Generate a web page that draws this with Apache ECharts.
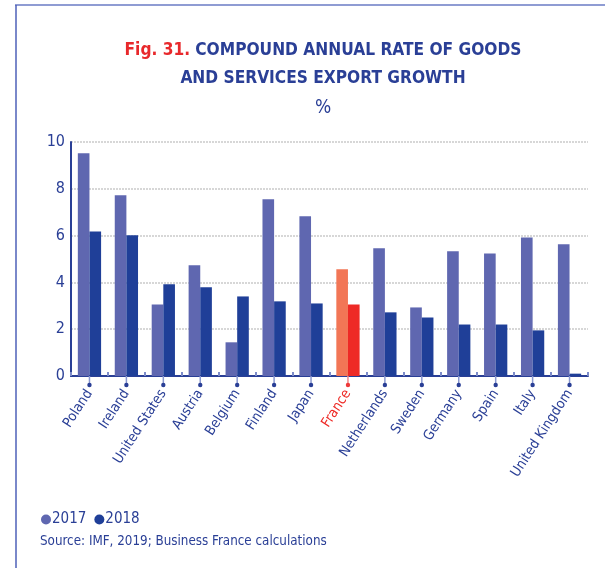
<!DOCTYPE html>
<html><head><meta charset="utf-8">
<script src="https://cdn.jsdelivr.net/npm/echarts@6/dist/echarts.min.js"></script>
<style>html,body{margin:0;padding:0;background:#fff}#c{width:605px;height:568px}</style>
</head><body><div id="c"></div>
<script>
const categories = ["Poland","Ireland","United States","Austria","Belgium","Finland","Japan","France","Netherlands","Sweden","Germany","Spain","Italy","United Kingdom"];
const values2017 = [9.52,7.72,3.06,4.73,1.44,7.55,6.83,4.56,5.46,2.93,5.33,5.24,5.92,5.63];
const values2018 = [6.18,6.01,3.92,3.79,3.40,3.19,3.10,3.06,2.72,2.50,2.20,2.20,1.95,0.10];
const yTicks = [0,2,4,6,8,10];
const highlight = "France";

const C17 = '#5f67b0', C18 = '#1f3f98', H17 = '#f27656', H18 = '#ee2a26', TXT = '#2a3f96';
const FONT = '"DejaVu Sans Condensed","Liberation Sans Narrow",sans-serif';

const chart = echarts.init(document.getElementById('c'));
chart.setOption({
  animation: false,
  textStyle: {fontFamily: FONT},
  title: {
    text: '{r|Fig. 31.} {b|COMPOUND ANNUAL RATE OF GOODS}\n{b|AND SERVICES EXPORT GROWTH}\n{p|%}',
    left: 318, top: 31, textAlign: 'center',
    textStyle: {
      fontWeight: 'normal',
      rich: {
        r: {color: '#e8282b', fontSize: 17.2, fontWeight: 'bold', fontFamily: FONT, lineHeight: 28.5},
        b: {color: TXT, fontSize: 17.2, fontWeight: 'bold', fontFamily: FONT, lineHeight: 28.5},
        p: {color: TXT, fontSize: 19, fontWeight: 'normal', fontFamily: FONT, lineHeight: 31}
      }
    }
  },
  legend: {
    left: 36, top: 507, itemGap: 8, itemWidth: 10, itemHeight: 10,
    icon: 'circle', data: ['2017','2018'],
    textStyle: {color: TXT, fontSize: 15, fontFamily: FONT, padding: [0,0,0,-4]}
  },
  graphic: [
    {type: 'line', shape: {x1: 15, y1: 5, x2: 605, y2: 5}, style: {stroke: '#6a7bc4', lineWidth: 1.5}},
    {type: 'line', shape: {x1: 16, y1: 5, x2: 16, y2: 568}, style: {stroke: '#4e60b8', lineWidth: 1.5}},
    {type: 'text', left: 40, top: 535, style: {text: 'Source: IMF, 2019; Business France calculations', fill: TXT, fontSize: 13.3, fontFamily: FONT}}
  ],
  grid: {left: 71, right: 17, top: 142, bottom: 192, containLabel: false},
  xAxis: {
    type: 'category', data: categories,
    axisLine: {lineStyle: {color: '#2a3f96', width: 2}},
    axisTick: {show: true, inside: true, length: 4, lineStyle: {color: '#7d8cc9', width: 2}},
    axisLabel: {
      rotate: 57, margin: 15, fontSize: 14, fontFamily: FONT,
      color: function (v) { return v === highlight ? '#ee2a26' : TXT; }
    }
  },
  yAxis: {
    type: 'value', min: 0, max: 10, interval: 2,
    axisLine: {show: true, lineStyle: {color: '#2a3f96', width: 2}},
    axisTick: {show: false},
    axisLabel: {color: TXT, fontSize: 16, fontFamily: FONT, margin: 6,
      formatter: function (v) { return yTicks.indexOf(v) >= 0 ? String(v) : ''; }},
    splitLine: {lineStyle: {color: '#cacaca', type: [2, 1], width: 1.5}}
  },
  series: [
    {name: '2017', type: 'bar', barGap: '0%', barCategoryGap: '37%',
     itemStyle: {color: C17},
     data: values2017.map((v, i) => categories[i] === highlight ? {value: v, itemStyle: {color: H17}} : v)},
    {name: '2018', type: 'bar', barGap: '0%', barCategoryGap: '37%',
     itemStyle: {color: C18},
     data: values2018.map((v, i) => categories[i] === highlight ? {value: v, itemStyle: {color: H18}} : v)},
    {name: 'markers', type: 'custom', clip: false, silent: true, legendHoverLink: false,
     data: categories.map((c, i) => [i, 0]),
     renderItem: function (params, api) {
       const p = api.coord([api.value(0), 0]);
       const hl = categories[api.value(0)] === highlight;
       return {type: 'group', children: [
         {type: 'line', shape: {x1: p[0], y1: p[1], x2: p[0], y2: p[1] + 8}, style: {stroke: hl ? '#f08a8a' : '#8a98cf', lineWidth: 1.5}},
         {type: 'circle', shape: {cx: p[0], cy: p[1] + 9, r: 2.2}, style: {fill: hl ? '#ee3a3a' : '#2a3f96'}}
       ]};
     }}
  ]
});
</script></body></html>
